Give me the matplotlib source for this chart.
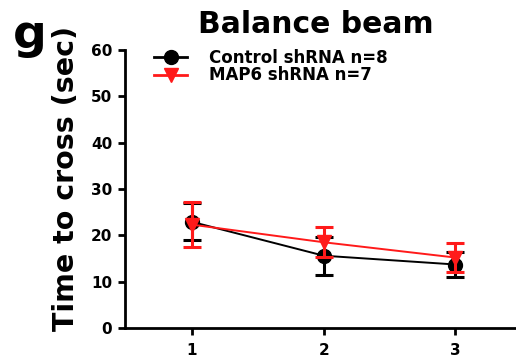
import matplotlib
matplotlib.use("Agg")
import matplotlib.pyplot as plt
from matplotlib.lines import Line2D

plt.rcParams['font.family'] = ['DejaVu Sans']
plt.rcParams['font.weight'] = 'bold'

days = [1, 2, 3]
control_mean = [22.9, 15.6, 13.7]
control_err = [4.0, 4.1, 2.7]
map6_mean = [22.3, 18.5, 15.2]
map6_err = [4.9, 3.2, 3.1]
labels = ["Control shRNA n=8", "MAP6 shRNA n=7"]
colors = ['black', '#ff1a1a']
markers = ['o', 'v']

fig = plt.figure(figsize=(5.16, 3.6), dpi=100)
ax = fig.add_axes([0.242, 0.089, 0.758, 0.772])

for mean, err, c, m, z in [(control_mean, control_err, colors[0], markers[0], 3),
                           (map6_mean, map6_err, colors[1], markers[1], 4)]:
    ax.errorbar(days, mean, yerr=err, color=c, marker=m, markersize=10,
                linewidth=1.4, elinewidth=2.2, capsize=6.5, capthick=2.2, zorder=z)

ax.set_xlim(0.49, 3.46)
ax.set_ylim(0, 60)
ax.set_yticks([0, 10, 20, 30, 40, 50, 60])
ax.set_xticks(days)
for s in ['top', 'right']:
    ax.spines[s].set_visible(False)
for s in ['left', 'bottom']:
    ax.spines[s].set_linewidth(2)
ax.tick_params(width=2, length=5, labelsize=11, direction='out')
ax.tick_params(axis='x', pad=6)
ax.tick_params(axis='y', pad=4)
for t in ax.get_xticklabels() + ax.get_yticklabels():
    t.set_fontweight('bold')

fig.text(0.128, 0.505, "Time to cross (sec)", rotation=90, ha='center', va='center',
         fontsize=20.5, fontweight='bold')

handles = [Line2D([], [], color=colors[i], marker=markers[i], markersize=10,
                  linewidth=2) for i in range(2)]
ax.legend(handles, labels, loc='upper left', bbox_to_anchor=(0.045, 1.045),
          frameon=False, fontsize=12, handlelength=2.0, handletextpad=1.3,
          labelspacing=-0.05, borderpad=0.2)

fig.text(0.613, 0.908, "Balance beam", ha='center', va='baseline', fontsize=21.5,
         fontweight='bold')
fig.text(0.058, 0.868, "g", ha='center', va='baseline', fontsize=34, fontweight='bold')

fig.savefig("out.png", dpi=100)
